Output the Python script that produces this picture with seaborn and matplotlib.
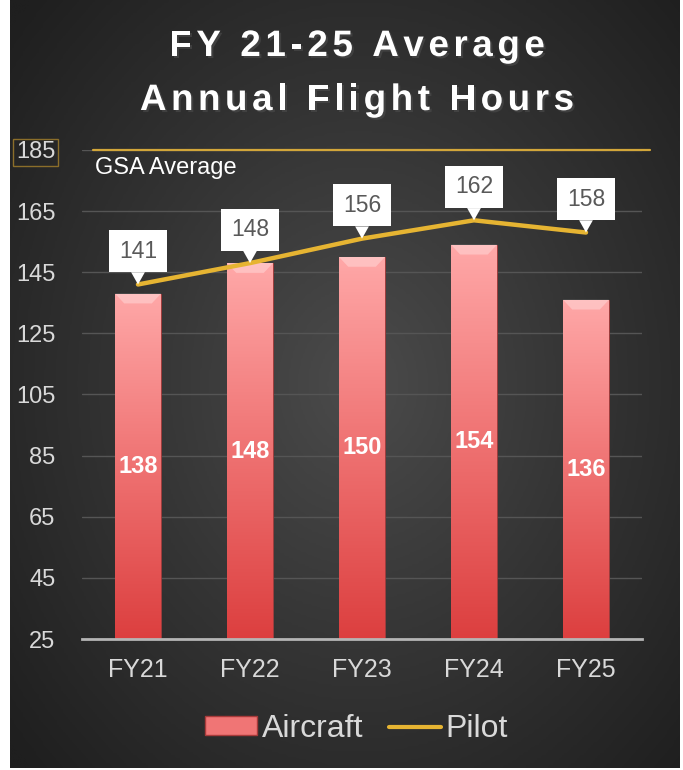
import numpy as np
import pandas as pd
import matplotlib
matplotlib.use("Agg")
import matplotlib.pyplot as plt
import matplotlib.patheffects as pe
import seaborn as sns
from matplotlib.colors import LinearSegmentedColormap
from matplotlib.lines import Line2D
from matplotlib.patches import Patch, Polygon

# data
years = ["FY21", "FY22", "FY23", "FY24", "FY25"]
aircraft = [138, 148, 150, 154, 136]
pilot = [141, 148, 156, 162, 158]
gsa_average = 185
y_ticks = [25, 45, 65, 85, 105, 125, 145, 165, 185]
title_lines = ["FY 21-25 Average", "Annual Flight Hours"]

df = pd.DataFrame({"year": years, "Aircraft": aircraft, "Pilot": pilot})

GOLD = "#E6B432"
TXT = "#D9D9D9"

sns.set_theme(style="dark")
plt.rcParams["font.family"] = ["Liberation Sans", "DejaVu Sans"]

W, H = 683, 770
fig = plt.figure(figsize=(W / 100, H / 100), dpi=100, facecolor="white")

# dark panel with a soft radial gradient
bg = fig.add_axes([10 / W, 2 / H, 670 / W, 768 / H])
bg.set_axis_off()
yy, xx = np.mgrid[0:1:300j, 0:1:300j]
r = np.sqrt(((xx - 0.52) / 0.8) ** 2 + ((yy - 0.5) / 0.85) ** 2)
bg_cmap = LinearSegmentedColormap.from_list("bg", ["#4b4b4b", "#343434", "#1f1f1f"])
bg.imshow(r, cmap=bg_cmap, vmin=0, vmax=0.85, extent=[0, 1, 0, 1], aspect="auto", origin="lower")

# main plot area
ax = fig.add_axes([82 / W, 1 - 639 / H, 560 / W, 489 / H])
ax.set_facecolor("none")

sns.barplot(data=df, x="year", y="Aircraft", ax=ax, width=0.41, color="#EE6B6B",
            edgecolor="#a03838", linewidth=0.6, zorder=2)

# vertical gradient inside each bar plus a bevelled top highlight
bar_cmap = LinearSegmentedColormap.from_list("bar", ["#DC3F3F", "#EF7272", "#FFA8A8"])
grad = np.linspace(0, 1, 256).reshape(-1, 1)
for p in ax.patches:
    x0, w, top = p.get_x(), p.get_width(), p.get_height()
    im = ax.imshow(grad, cmap=bar_cmap, extent=[x0, x0 + w, y_ticks[0], top],
                   aspect="auto", origin="lower", zorder=2.1)
    im.set_clip_path(p)
    inset = w * 0.2
    ax.add_patch(Polygon([(x0, top), (x0 + w, top), (x0 + w - inset, top - 3.2),
                          (x0 + inset, top - 3.2)], closed=True, fc="white",
                         ec="none", alpha=0.3, zorder=2.2))

sns.pointplot(data=df, x="year", y="Pilot", ax=ax, color=GOLD, markers="",
              linewidth=3.2, errorbar=None, zorder=4)

ax.set_xlim(-0.5, 4.5)
ax.set_ylim(y_ticks[0], y_ticks[-1])
ax.set_yticks(y_ticks)
ax.set_yticklabels([str(t) for t in y_ticks])
ax.set_xlabel("")
ax.set_ylabel("")
ax.tick_params(axis="y", colors=TXT, labelsize=17, length=0, pad=19)
ax.tick_params(axis="x", colors=TXT, labelsize=18, length=0, pad=14)
ax.grid(axis="y", color="#555555", linewidth=1)
ax.grid(axis="x", visible=False)
for side in ["top", "right", "left"]:
    ax.spines[side].set_visible(False)
ax.spines["bottom"].set_color("#b5b5b5")
ax.spines["bottom"].set_linewidth(2)
ax.set_axisbelow(True)

# boxed top tick
ax.yaxis.get_major_ticks()[-1].label1.set_bbox(
    dict(boxstyle="square,pad=0.12", fc="none", ec="#8B6E2A", lw=1))

# GSA average reference line
ax.axhline(gsa_average, xmin=11 / 560, xmax=568 / 560, color="#D2A63A", lw=1.6,
           clip_on=False, zorder=3)
ax.text(-0.385, gsa_average - 2.2, "GSA Average", color="white", fontsize=17,
        ha="left", va="top")

# bar value labels
for i, v in enumerate(aircraft):
    ax.text(i, (y_ticks[0] + v) / 2, str(v), color="white", fontsize=17,
            fontweight="bold", ha="center", va="center", zorder=5)

# pilot callouts
for i, v in enumerate(pilot):
    ax.annotate(str(v), xy=(i, v), xytext=(0, 24), textcoords="offset points",
                ha="center", va="center", fontsize=16.5, color="#595959", zorder=6,
                bbox=dict(boxstyle="square,pad=0.42", fc="white", ec="none"),
                arrowprops=dict(arrowstyle="wedge,tail_width=0.6,shrink_factor=0.5",
                                fc="white", ec="none", shrinkA=0, shrinkB=0))

# letter-spaced title with a soft shadow
renderer = fig.canvas.get_renderer()
shadow = [pe.SimplePatchShadow(offset=(1.5, -1.5), alpha=0.6), pe.Normal()]
title_size = 26.5
for line, base_px in zip(title_lines, [56, 110]):
    kw = dict(fontsize=title_size, fontweight="bold", color="white", va="baseline",
              path_effects=shadow)
    widths = []
    for ch in line:
        if ch == " ":
            widths.append(title_size * 100 / 72 * 0.278)
        else:
            t = fig.text(0, 0, ch, **kw)
            widths.append(t.get_window_extent(renderer).width)
            t.remove()
    gap = 4.6
    total = sum(widths) + gap * (len(line) - 1)
    x = 357 - total / 2
    for ch, wch in zip(line, widths):
        if ch != " ":
            fig.text(x / W, 1 - base_px / H, ch, ha="left", **kw)
        x += wch + gap

handles = [Patch(facecolor="#F07575", edgecolor="#a83a3a"),
           Line2D([], [], color=GOLD, lw=3)]
fig.legend(handles, ["Aircraft", "Pilot"], loc="center", bbox_to_anchor=(0.522, 1 - 729 / H),
           ncol=2, frameon=False, fontsize=23, labelcolor=TXT, handlelength=1.63,
           handleheight=0.55, handletextpad=0.15, columnspacing=0.8)

fig.savefig("out.png", dpi=100, facecolor=fig.get_facecolor())
